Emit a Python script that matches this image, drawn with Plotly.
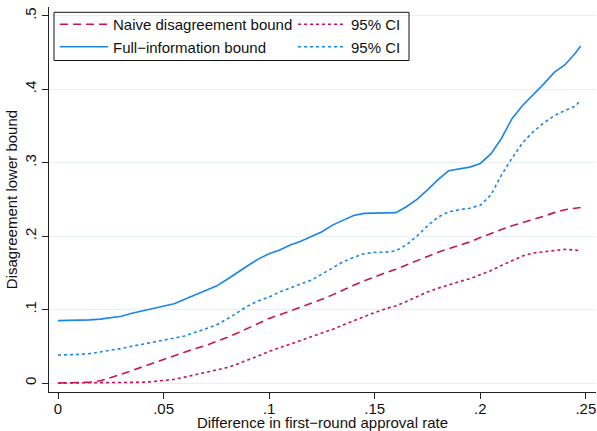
import plotly.graph_objects as go

x_vals = [0.0, 0.005, 0.01, 0.015, 0.02, 0.025, 0.03, 0.035, 0.04, 0.045,
          0.05, 0.055, 0.06, 0.065, 0.07, 0.075, 0.08, 0.085, 0.09, 0.095,
          0.1, 0.105, 0.11, 0.115, 0.12, 0.125, 0.13, 0.135, 0.14, 0.145,
          0.15, 0.155, 0.16, 0.165, 0.17, 0.175, 0.18, 0.185, 0.19, 0.195,
          0.2, 0.205, 0.21, 0.215, 0.22, 0.225, 0.23, 0.235, 0.24, 0.245, 0.2475]

naive_bound = [0.0, 0.0, 0.0, 0.001, 0.003, 0.007, 0.012, 0.017, 0.022, 0.027,
               0.033, 0.038, 0.042, 0.047, 0.051, 0.056, 0.062, 0.068, 0.075, 0.082,
               0.088, 0.093, 0.098, 0.103, 0.108, 0.114, 0.120, 0.127, 0.133, 0.139,
               0.145, 0.150, 0.155, 0.161, 0.167, 0.173, 0.178, 0.183, 0.187, 0.192,
               0.198, 0.204, 0.209, 0.214, 0.218, 0.222, 0.227, 0.232, 0.236, 0.238, 0.239]

naive_ci = [0.0, 0.0, 0.0, 0.0, 0.0, 0.0, 0.0, 0.0, 0.001, 0.002,
            0.003, 0.005, 0.008, 0.011, 0.014, 0.017, 0.021, 0.026, 0.031, 0.037,
            0.043, 0.048, 0.053, 0.057, 0.062, 0.067, 0.073, 0.079, 0.085, 0.091,
            0.096, 0.101, 0.105, 0.111, 0.118, 0.124, 0.129, 0.134, 0.138, 0.142,
            0.147, 0.153, 0.160, 0.167, 0.173, 0.177, 0.179, 0.181, 0.182, 0.181, 0.180]

full_bound = [0.085, 0.085, 0.085, 0.086, 0.087, 0.089, 0.091, 0.095, 0.098, 0.101,
              0.104, 0.108, 0.114, 0.120, 0.126, 0.132, 0.141, 0.151, 0.160, 0.169,
              0.176, 0.181, 0.188, 0.193, 0.199, 0.206, 0.215, 0.221, 0.228, 0.231,
              0.231, 0.231, 0.232, 0.240, 0.250, 0.263, 0.277, 0.289, 0.291, 0.294,
              0.299, 0.312, 0.333, 0.360, 0.378, 0.392, 0.407, 0.423, 0.433, 0.449, 0.459]

full_ci = [0.038, 0.038, 0.039, 0.040, 0.042, 0.044, 0.047, 0.050, 0.053, 0.056,
           0.058, 0.061, 0.064, 0.069, 0.074, 0.079, 0.087, 0.096, 0.105, 0.112,
           0.117, 0.124, 0.130, 0.135, 0.140, 0.148, 0.157, 0.165, 0.171, 0.176,
           0.178, 0.178, 0.180, 0.188, 0.200, 0.214, 0.226, 0.233, 0.236, 0.238,
           0.242, 0.256, 0.283, 0.306, 0.327, 0.342, 0.354, 0.364, 0.371, 0.377, 0.385]

x_ticks = [0, 0.05, 0.1, 0.15, 0.2, 0.25]
x_tick_labels = ["0", ".05", ".1", ".15", ".2", ".25"]
y_ticks = [0, 0.1, 0.2, 0.3, 0.4, 0.5]
y_tick_labels = ["0", ".1", ".2", ".3", ".4", ".5"]

RED = "#c8164c"
BLUE = "#1a86ea"
FONT = "Liberation Sans"
FS = 15

fig = go.Figure()
fig.add_trace(go.Scatter(x=x_vals, y=naive_bound, mode="lines",
                         name="Naive disagreement bound",
                         line=dict(color=RED, width=1.6, dash="8px,5px"),
                         legend="legend"))
fig.add_trace(go.Scatter(x=x_vals, y=full_bound, mode="lines",
                         name="Full\u2212information bound",
                         line=dict(color=BLUE, width=1.6),
                         legend="legend"))
fig.add_trace(go.Scatter(x=x_vals, y=naive_ci, mode="lines",
                         name="95% CI",
                         line=dict(color=RED, width=1.6, dash="3px,3px"),
                         legend="legend2"))
fig.add_trace(go.Scatter(x=x_vals, y=full_ci, mode="lines",
                         name="95% CI",
                         line=dict(color=BLUE, width=1.6, dash="3px,3px"),
                         legend="legend2"))

W, H = 597, 431
ML, MR, MT, MB = 49, 1, 7, 39
pw = W - ML - MR
ph = H - MT - MB

def px2paper_x(px):
    return (px - ML) / pw

def px2paper_y(py):
    return (H - MB - py) / ph

legend_common = dict(bgcolor="rgba(0,0,0,0)", borderwidth=0,
                     font=dict(family=FONT, size=FS, color="#111"),
                     yanchor="top", xanchor="left", itemwidth=48,
                     tracegroupgap=0, traceorder="normal")

fig.update_layout(
    width=W, height=H,
    margin=dict(l=ML, r=MR, t=MT, b=MB),
    paper_bgcolor="white", plot_bgcolor="white",
    font=dict(family=FONT, size=FS, color="#111"),
    showlegend=True,
    legend=dict(x=px2paper_x(55), y=px2paper_y(8), **legend_common),
    legend2=dict(x=px2paper_x(293), y=px2paper_y(8), **legend_common),
    hovermode=False,
    xaxis=dict(range=[-0.00427, 0.2548], tickvals=x_ticks, ticktext=x_tick_labels,
               automargin=False,
               showgrid=False, zeroline=False, showline=True, linecolor="#222",
               linewidth=1, ticks="outside", ticklen=6, tickcolor="#222",
               ticklabelstandoff=-3,
               tickfont=dict(family=FONT, size=FS, color="#111"),
               title=dict(text="Difference in first\u2212round approval rate",
                          font=dict(family=FONT, size=FS, color="#111"), standoff=5)),
    yaxis=dict(range=[-0.01224, 0.512], tickvals=y_ticks, ticktext=y_tick_labels,
               automargin=False,
               showgrid=True, gridcolor="#e8f0f2", gridwidth=1, zeroline=False,
               showline=True, linecolor="#222", linewidth=1, ticks="outside",
               ticklen=6, tickcolor="#222", tickangle=-90,
               tickfont=dict(family=FONT, size=FS, color="#111"),
               title=dict(text="Disagreement lower bound",
                          font=dict(family=FONT, size=FS, color="#111"), standoff=0)),
    shapes=[dict(type="rect", xref="paper", yref="paper",
                 x0=px2paper_x(54), x1=px2paper_x(409),
                 y0=px2paper_y(60.5), y1=px2paper_y(12.3),
                 line=dict(color="#111", width=1), fillcolor="rgba(0,0,0,0)",
                 layer="above")],
)

fig.write_html("out.html", config={"displayModeBar": False},
               post_script="document.body.style.margin='0px';")
